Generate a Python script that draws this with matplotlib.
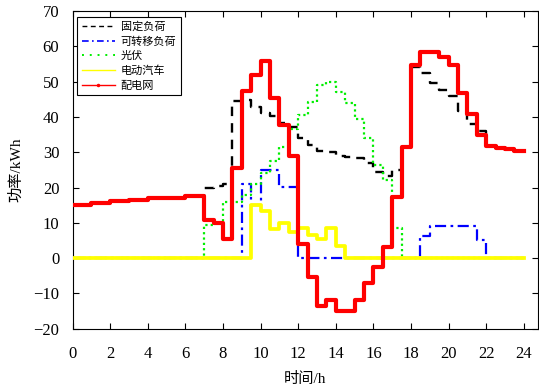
import numpy as np
import matplotlib
matplotlib.use("Agg")
import matplotlib.pyplot as plt
from matplotlib.lines import Line2D

plt.rcParams['font.family'] = ['Liberation Serif', 'Noto Sans CJK SC']
plt.rcParams['axes.unicode_minus'] = True

# half-hour time grid (hours)
t_edges = np.arange(0, 24.5, 0.5)

fixed_load = [15.0, 15.0, 15.6, 15.6, 16.1, 16.1, 16.5, 16.5, 17.1, 17.1, 17.1, 17.1,
              17.6, 17.6, 20.0, 20.3, 21.0, 44.5, 44.9, 42.7, 41.1, 40.2, 38.3, 37.0,
              34.0, 32.0, 30.3, 30.0, 29.0, 28.5, 28.3, 27.0, 24.5, 23.2, 25.0, 31.5,
              54.0, 52.3, 49.6, 47.7, 45.8, 41.6, 37.9, 36.0, 31.7, 31.3, 30.9, 30.4]

shift_load = [0, 0, 0, 0, 0, 0, 0, 0, 0, 0, 0, 0,
              0, 0, 0, 0, 0, 0, 21.0, 15.0, 25.0, 25.0, 20.2, 20.2,
              0, 0, 0, 0, 0, 0, 0, 0, 0, 0, 0, 0,
              0, 6.4, 9.0, 9.0, 9.0, 9.0, 9.0, 5.2, 0, 0, 0, 0]

pv = [0, 0, 0, 0, 0, 0, 0, 0, 0, 0, 0, 0,
      0, 0, 9.5, 10.0, 15.8, 15.8, 17.8, 21.0, 24.2, 27.5, 31.6, 36.5,
      40.5, 44.2, 49.0, 50.0, 47.0, 43.8, 39.3, 34.0, 26.5, 22.0, 8.4, 0,
      0, 0, 0, 0, 0, 0, 0, 0, 0, 0, 0, 0]

ev = [0, 0, 0, 0, 0, 0, 0, 0, 0, 0, 0, 0,
      0, 0, 0, 0, 0, 0, 0, 15.0, 13.4, 8.3, 10.0, 7.3,
      8.4, 6.5, 5.5, 8.4, 3.5, 0, 0, 0, 0, 0, 0, 0,
      0, 0, 0, 0, 0, 0, 0, 0, 0, 0, 0, 0]

grid = [15.0, 15.0, 15.6, 15.6, 16.1, 16.1, 16.5, 16.5, 17.1, 17.1, 17.1, 17.1,
        17.6, 17.6, 10.8, 9.9, 5.3, 25.5, 47.4, 51.9, 55.7, 45.4, 37.6, 28.9,
        3.9, -5.4, -13.7, -11.8, -14.9, -14.9, -11.8, -7.1, -2.4, 3.1, 17.4, 31.5,
        54.8, 58.5, 58.5, 57.1, 54.8, 46.8, 40.8, 34.8, 31.7, 31.3, 30.9, 30.4]

labels = ['固定负荷', '可转移负荷', '光伏', '电动汽车', '配电网']
xticks = list(range(0, 25, 2))
yticks = list(range(-20, 71, 10))

fig = plt.figure(figsize=(5.39, 3.88), dpi=100)
ax = fig.add_axes([72.5/539, 1-328.7/388, (538.3-72.5)/539, (328.7-11)/388])

def stp(vals, **kw):
    y = list(vals) + [vals[-1]]
    ax.step(t_edges, y, where='post', **kw)

stp(fixed_load, color='black', lw=1.7, linestyle=(0, (4, 3)), zorder=2)
stp(shift_load, color='#0000ff', lw=1.6, linestyle=(0, (5, 2, 1.2, 2)), zorder=3)
stp(pv, color='#00ee00', lw=1.6, linestyle=(0, (1, 1.4)), zorder=4)
stp(ev, color='#ffff00', lw=2.7, zorder=5)
stp(grid, color='#ff0000', lw=3.0, zorder=6)

ax.set_xlim(0, 24.77)
ax.set_ylim(-20, 70)
ax.set_xticks(xticks)
ax.set_yticks(yticks)
ax.tick_params(direction='in', top=True, right=True, length=4, width=0.8,
               labelsize=12)
ax.tick_params(axis='x', pad=12.5)
ax.tick_params(axis='y', pad=9.5)
for s in ax.spines.values():
    s.set_linewidth(0.8)

ax.set_xlabel('时间/h', fontsize=11, labelpad=7)
ax.set_ylabel('功率/kWh', fontsize=11, labelpad=7)

handles = [
    Line2D([], [], color='black', lw=1.0, linestyle=(0, (3.5, 2.5))),
    Line2D([], [], color='#0000ff', lw=1.2, linestyle=(0, (4, 2, 1, 2))),
    Line2D([], [], color='#00ee00', lw=1.4, linestyle=(0, (1, 3))),
    Line2D([], [], color='#ffff00', lw=1.0),
    Line2D([], [], color='#ff0000', lw=1.0, marker='.', markersize=3),
]
leg = ax.legend(handles, labels, loc='upper left', bbox_to_anchor=(0.0103, 0.982),
                borderaxespad=0, fontsize=8, frameon=True, fancybox=False,
                edgecolor='black', framealpha=1, handlelength=3.0,
                labelspacing=0.4, borderpad=0.4, handletextpad=0.5)
leg.get_frame().set_linewidth(0.8)

fig.savefig('out.png', dpi=100)
